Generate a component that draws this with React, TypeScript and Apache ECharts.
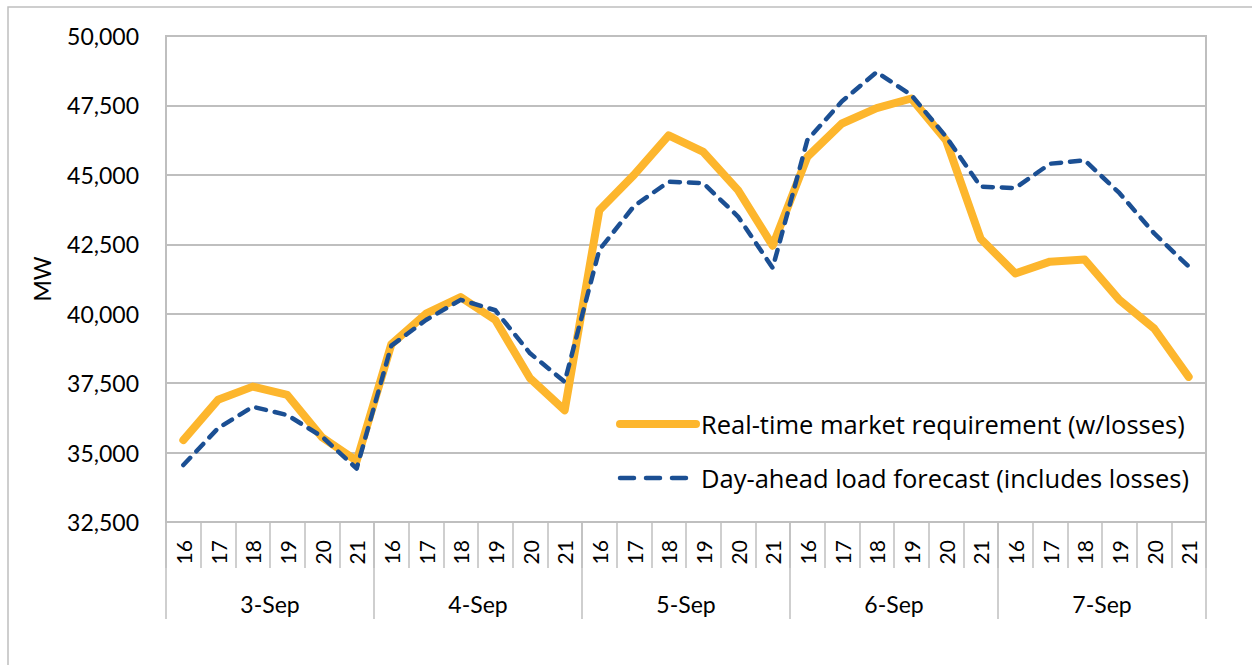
import React, { useEffect, useRef } from "react";
import * as echarts from "echarts";

const hours = ["16", "17", "18", "19", "20", "21"];
const days = ["3-Sep", "4-Sep", "5-Sep", "6-Sep", "7-Sep"];
const yTicks = [32500, 35000, 37500, 40000, 42500, 45000, 47500, 50000];

const realTime = [
  35450, 36900, 37375, 37075, 35550, 34700,
  38900, 40000, 40600, 39775, 37675, 36525,
  43725, 45000, 46425, 45825, 44450, 42450,
  45650, 46850, 47400, 47750, 46250, 42700,
  41450, 41875, 41950, 40500, 39475, 37725,
];
const dayAhead = [
  34550, 35875, 36650, 36350, 35575, 34425,
  38850, 39775, 40500, 40125, 38575, 37550,
  42300, 43875, 44750, 44700, 43500, 41650,
  46250, 47650, 48700, 47875, 46375, 44575,
  44525, 45400, 45525, 44350, 42900, 41700,
];

const seriesNames = [
  "Real-time market requirement (w/losses)",
  "Day-ahead load forecast (includes losses)",
];

const FONT = "Lato, 'Open Sans', sans-serif";
const LEGEND_FONT = "'Open Sans', Lato, sans-serif";
const GRID = "#BFBFBF";
const YELLOW = "#FDB62D";
const BLUE = "#1B4F93";

export default function App() {
  const ref = useRef<HTMLDivElement>(null);
  useEffect(() => {
    document.body.style.margin = "0";
    if (!ref.current) return;
    const chart = echarts.init(ref.current, null, { renderer: "svg" });
    const categories: string[] = [];
    days.forEach(() => hours.forEach((h) => categories.push(h)));
    chart.setOption({
      animation: false,
      textStyle: { fontFamily: FONT },
      graphic: [
        {
          type: "rect",
          shape: { x: 8, y: 7, width: 1300, height: 700 },
          style: { fill: "none", stroke: GRID, lineWidth: 1.5 },
          silent: true,
        },
      ],
      grid: {
        left: 166,
        right: 46,
        top: 36,
        bottom: 143,
        show: true,
        borderColor: GRID,
        borderWidth: 2,
        containLabel: false,
      },
      legend: {
        orient: "vertical",
        left: 616,
        top: 411,
        padding: 0,
        itemWidth: 76,
        itemHeight: 28,
        itemGap: 28,
        textStyle: { fontFamily: LEGEND_FONT, fontSize: 25.5, color: "#000" },
        data: [
          {
            name: seriesNames[0],
            itemStyle: { opacity: 0 },
            lineStyle: { width: 8, cap: "round" },
          },
          {
            name: seriesNames[1],
            itemStyle: { opacity: 0 },
            lineStyle: { width: 4.5, cap: "round", type: [14, 12] },
          },
        ],
      },
      xAxis: [
        {
          type: "category",
          data: categories,
          boundaryGap: true,
          axisLine: { show: true, lineStyle: { color: GRID, width: 2 } },
          axisTick: { show: true, interval: 0, length: 46, lineStyle: { color: GRID, width: 1.5 } },
          axisLabel: {
            interval: 0,
            rotate: 90,
            margin: 18,
            fontFamily: FONT,
            fontSize: 21,
            color: "#000",
          },
          splitLine: { show: false },
        },
        {
          type: "category",
          data: days,
          position: "bottom",
          boundaryGap: true,
          axisLine: { show: false },
          axisTick: { show: true, interval: 0, length: 97, lineStyle: { color: GRID, width: 1.5 } },
          axisLabel: {
            interval: 0,
            margin: 70,
            fontFamily: FONT,
            fontSize: 23,
            color: "#000",
          },
          splitLine: { show: false },
        },
      ],
      yAxis: {
        type: "value",
        min: yTicks[0],
        max: yTicks[yTicks.length - 1],
        interval: 2500,
        name: "MW",
        nameLocation: "middle",
        nameGap: 113,
        nameRotate: 90,
        nameTextStyle: { fontFamily: FONT, fontSize: 23, color: "#000" },
        axisLine: { show: true, lineStyle: { color: GRID, width: 2 } },
        axisTick: { show: false },
        axisLabel: {
          margin: 27,
          fontFamily: FONT,
          fontSize: 23,
          color: "#000",
          formatter: (v: number) => v.toLocaleString("en-US"),
        },
        splitLine: { show: true, lineStyle: { color: GRID, width: 2 } },
      },
      series: [
        {
          name: seriesNames[0],
          type: "line",
          data: realTime,
          symbol: "none",
          lineStyle: { color: YELLOW, width: 8, cap: "round", join: "round" },
          itemStyle: { color: YELLOW },
          z: 2,
        },
        {
          name: seriesNames[1],
          type: "line",
          data: dayAhead,
          symbol: "none",
          lineStyle: { color: BLUE, width: 4.5, type: [10, 9], cap: "round", join: "round" },
          itemStyle: { color: BLUE },
          z: 3,
        },
      ],
    });
    return () => chart.dispose();
  }, []);
  return <div ref={ref} style={{ width: 1252, height: 665 }} />;
}
